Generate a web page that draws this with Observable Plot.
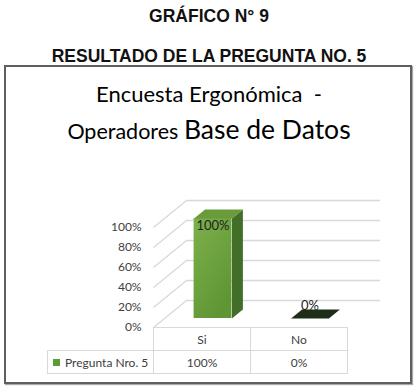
<!DOCTYPE html>
<html><head><meta charset="utf-8">
<script src="https://cdn.jsdelivr.net/npm/d3@7"></script>
<script src="https://cdn.jsdelivr.net/npm/@observablehq/plot@0.6"></script>
<style>
body{margin:0;background:#fff;width:418px;height:386px;overflow:hidden;position:relative;font-family:Lato,"Open Sans",sans-serif}
.h{position:absolute;left:0;width:418px;text-align:center;font-family:"Liberation Sans",Arial,sans-serif;font-weight:bold;font-size:17.5px;line-height:17px;color:#111}
#box{position:absolute;left:4px;top:65px;width:404px;height:315px;border:2px solid #5f5f5f;box-shadow:1px 1px 1px #aaa}
.t{position:absolute;left:0;width:418px;text-align:center;color:#000;white-space:pre}
#chart{position:absolute;left:0;top:0;width:418px;height:386px}
#chart svg{max-width:none !important}
.cell{position:absolute;box-sizing:border-box;border:1px solid #d9d9d9;font-size:12px;color:#404040;display:flex;align-items:center;justify-content:center;height:24px}
</style></head><body>
<div class="h" id="h1" style="top:8px"></div>
<div class="h" id="h2" style="top:48px"></div>
<div id="box"></div>
<div id="chart"></div>
<div class="t" id="t1" style="top:83px;font-size:22px;line-height:22px"></div>
<div class="t" id="t2" style="top:116px;font-size:21.5px;line-height:26px"></div>
<div id="table"></div>
<script>
const heading1 = "GRÁFICO N° 9";
const heading2 = "RESULTADO DE LA PREGUNTA NO. 5";
const titleLine1 = "Encuesta Ergonómica  -";
const titleLine2a = "Operadores ";
const titleLine2b = "Base de Datos";
const categories = ["Si", "No"];
const values = [100, 0];
const valueLabels = ["100%", "0%"];
const seriesName = "Pregunta Nro. 5";
const yTicks = [0, 20, 40, 60, 80, 100];

document.getElementById("h1").textContent = heading1;
document.getElementById("h2").textContent = heading2;
document.getElementById("t1").textContent = titleLine1;
const t2 = document.getElementById("t2");
t2.append(titleLine2a);
const big = document.createElement("span");
big.style.fontSize = "26.5px";
big.textContent = titleLine2b;
t2.append(big);

// 3D geometry (in data units)
const DX = 0.34, DY = 27, W = 0.39, D1 = 1/3, D2 = 2/3;
const bars = categories.map((c, i) => ({c, v: values[i], label: valueLabels[i], cx: i + 0.5}));

const topPts = bars.flatMap(b => [
  [b.cx - W/2 + D1*DX, b.v + D1*DY],
  [b.cx + W/2 + D1*DX, b.v + D1*DY],
  [b.cx + W/2 + D2*DX, b.v + D2*DY],
  [b.cx - W/2 + D2*DX, b.v + D2*DY]
].map(([x, y]) => ({c: b.c, x, y, col: b.v > 0 ? "#6a9b3b" : "#1f2e18"})));

const sidePts = bars.filter(b => b.v > 0).flatMap(b => [
  [b.cx + W/2 + D1*DX, D1*DY],
  [b.cx + W/2 + D2*DX, D2*DY],
  [b.cx + W/2 + D2*DX, b.v + D2*DY],
  [b.cx + W/2 + D1*DX, b.v + D1*DY]
].map(([x, y]) => ({c: b.c, x, y})));

// soft floor shadow under each bar
const SH = 0.07;
const shadowPts = bars.flatMap(b => [
  [b.cx - W/2 + D1*DX + SH*0.5, D1*DY - 1],
  [b.cx + W/2 + D1*DX + SH, D1*DY - 1],
  [b.cx + W/2 + D2*DX + SH, D2*DY - 1],
  [b.cx - W/2 + D2*DX + SH, D2*DY - 1]
].map(([x, y]) => ({c: b.c, x, y})));

const defs = () => {
  const d = d3.create("svg:defs");
  const g = d.append("linearGradient").attr("id", "gFront").attr("x1", 0).attr("y1", 0).attr("x2", 0.6).attr("y2", 1);
  g.append("stop").attr("offset", 0).attr("stop-color", "#7cb04b");
  g.append("stop").attr("offset", 1).attr("stop-color", "#5f9634");
  d.append("filter").attr("id", "blur").attr("x", "-20%").attr("y", "-50%").attr("width", "140%").attr("height", "200%")
    .append("feGaussianBlur").attr("stdDeviation", 1.6);
  return d.node();
};

const grid = "#d9d9d9";
const chart = Plot.plot({
  width: 418, height: 386,
  marginLeft: 153, marginRight: 71, marginTop: 227, marginBottom: 59,
  x: {domain: [0, 2], axis: null},
  y: {domain: [0, 100], axis: null},
  color: {type: "identity"},
  style: {background: "transparent", fontFamily: "Lato, 'Open Sans', sans-serif", maxWidth: "none"},
  marks: [
    defs,
    Plot.ruleY(yTicks, {y: d => d + DY, x1: DX, x2: 2 + DX, stroke: grid, strokeWidth: 1.3}),
    Plot.link(yTicks, {x1: 0, y1: d => d, x2: DX, y2: d => d + DY, stroke: grid, strokeWidth: 1.3}),
    Plot.axisY(yTicks, {tickFormat: d => d + "%", tickSize: 0, tickPadding: 12, fontSize: 12, fill: "#404040", label: null}),
    Plot.line(shadowPts, {x: "x", y: "y", z: "c", fill: "#1a2a14", fillOpacity: 0.75, stroke: "none", filter: "url(#blur)"}),
    Plot.rect(bars.filter(b => b.v > 0), {x1: d => d.cx - W/2 + D1*DX, x2: d => d.cx + W/2 + D1*DX, y1: D1*DY, y2: d => d.v + D1*DY, fill: "url(#gFront)"}),
    Plot.line(sidePts, {x: "x", y: "y", z: "c", fill: "#426f27", stroke: "none"}),
    Plot.line(topPts, {x: "x", y: "y", z: "c", fill: "col", stroke: "none"}),
    Plot.text(bars.filter(b => b.v > 0), {x: d => d.cx + D1*DX, y: d => d.v + D1*DY, text: "label", dy: 7, fontSize: 13, fill: "#222"}),
    Plot.text(bars.filter(b => b.v === 0), {x: d => d.cx + D1*DX, y: d => d.v + D1*DY, text: "label", dy: -13, fontSize: 13, fill: "#222"})
  ]
});
chart.style.position = "absolute";
chart.style.left = "0px";
chart.style.top = "0px";
chart.style.maxWidth = "none";
chart.style.width = "418px";
chart.style.height = "386px";
document.getElementById("chart").append(chart);

// data table aligned to the plot's x scale
const sx = chart.scale("x"), sy = chart.scale("y");
const x0 = sx.apply(0), yTop = sy.apply(0);
const legendLeft = 47, rowH = 23;
const tbl = document.getElementById("table");
function cell(left, top, width, content) {
  const el = document.createElement("div");
  el.className = "cell";
  el.style.left = left + "px";
  el.style.top = top + "px";
  el.style.width = (width + 1) + "px";
  if (typeof content === "string") el.textContent = content; else el.append(...content);
  tbl.append(el);
}
categories.forEach((c, i) => {
  const l = sx.apply(i), r = sx.apply(i + 1);
  cell(l, yTop, r - l, c);
  cell(l, yTop + rowH, r - l, valueLabels[i]);
});
const sw = document.createElement("span");
sw.style.cssText = "display:inline-block;width:7px;height:7px;background:#5e9b36;margin-right:5px";
const lt = document.createElement("span");
lt.textContent = seriesName;
cell(legendLeft, yTop + rowH, x0 - legendLeft, [sw, lt]);
tbl.lastChild.style.justifyContent = "flex-start";
tbl.lastChild.style.paddingLeft = "5px";
</script>
</body></html>
